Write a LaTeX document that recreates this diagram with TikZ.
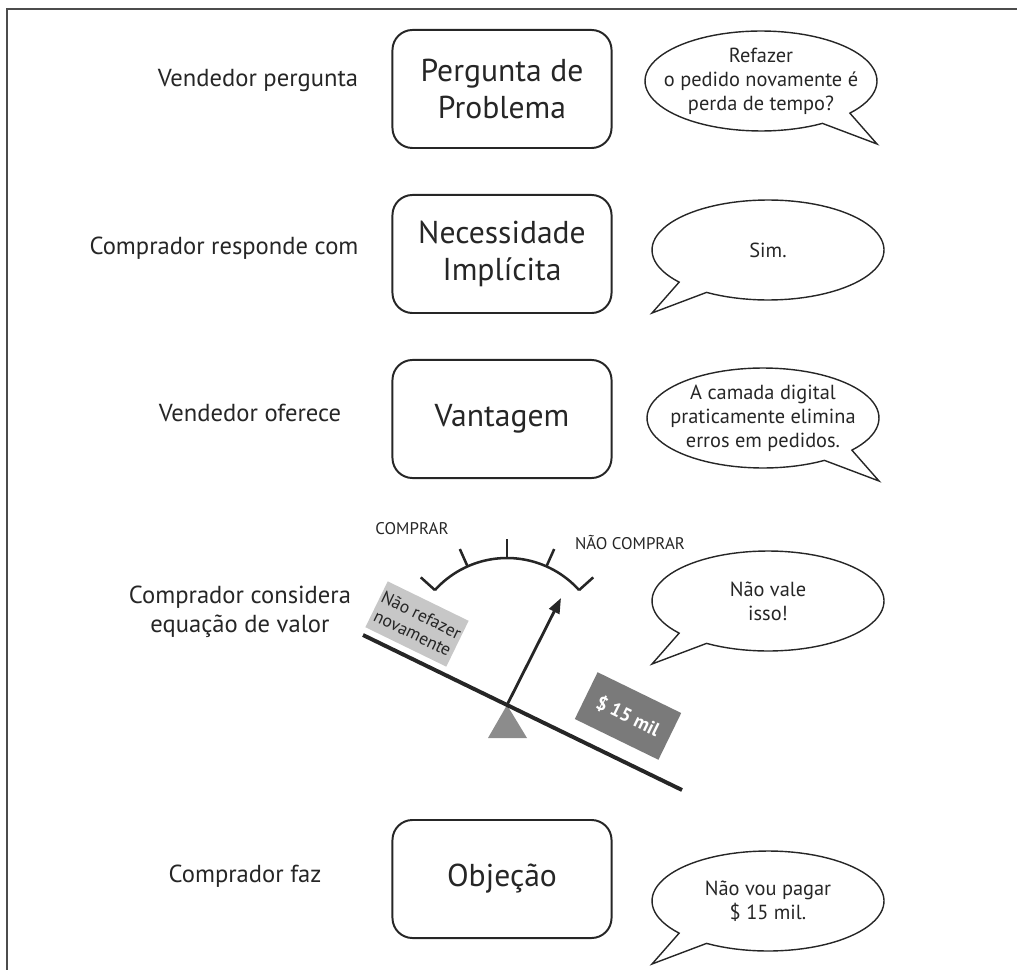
\documentclass[tikz,border=0pt]{standalone}
\usepackage{fontspec}
\setmainfont{PT Sans}
\usepackage{tikz}
\usetikzlibrary{arrows.meta, positioning, calc}

\begin{document}
\begin{tikzpicture}[
    x=0.025cm, y=-0.025cm,
    color=black!85,
    lefttext/.style={align=center, font=\fontsize{17.5}{21}\selectfont},
    stagebox/.style={draw, rounded corners=0.5cm, line width=1.4pt, minimum width=5.475cm, minimum height=2.95cm, align=center, font=\fontsize{22.5}{26.5}\selectfont},
    saytext/.style={align=center, font=\fontsize{14.5}{17}\selectfont},
    bubble/.style={line width=1pt, line join=miter},
    dialline/.style={line width=1.8pt},
    dialtext/.style={font=\fontsize{12}{14}\selectfont},
    weight/.style={minimum width=2.25cm, minimum height=1.275cm, inner sep=1pt, align=center, rotate=-26},
    pointer/.style={-{Triangle[length=3.8mm, width=2.8mm]}, line width=2pt}
]
\useasboundingbox (0,0) rectangle (1017,970);

% Frame
\draw[black!70, line width=1.4pt] (7,970) -- (7,9) -- (1017,9);

% Stages
\node[stagebox] (problema) at (502,89) {Pergunta de\\Problema};
\node[stagebox] (necessidade) at (502,254) {Necessidade\\Implícita};
\node[stagebox] (vantagem) at (502,419) {Vantagem};
\node[stagebox] (objecao) at (502,879) {Objeção};

% Who speaks
\node[lefttext] (who1) at (258,81) {Vendedor pergunta};
\node[lefttext] (who2) at (224,248) {Comprador responde com};
\node[lefttext] (who3) at (250,413) {Vendedor oferece};
\node[lefttext] (who4) at (240,612) {Comprador considera\\equação de valor};
\node[lefttext] (who5) at (245,876) {Comprador faz};

% Speech
\node[saytext] (say1) at (761,81) {Refazer\\o pedido novamente é\\perda de tempo?};
\node[saytext] (say2) at (768,250) {Sim.};
\node[saytext] (say3) at (763,418) {A camada digital\\praticamente elimina\\erros em pedidos.};
\node[saytext] (say4) at (768,601) {Não vale\\isso!};
\node[saytext] (say5) at (768,901) {Não vou pagar\\\$ 15 mil.};

\foreach \n/\s in {say1/1, say2/-1, say3/1, say4/-1, say5/-1}
  \draw[bubble, shift={(\n.center)}, xscale=\s]
    plot[domain=58:400, samples=90] ({116*cos(\x)},{50*sin(\x)}) -- (116,63) -- cycle;

% Dial
\coordinate (dial) at (507,655);
\draw[dialline] plot[domain=42:138, samples=40] ({507+97*cos(\x)},{655-97*sin(\x)});
\foreach \a in {42,66,90,114,138}
  \draw[dialline] ($(dial)+(-\a:97)$) -- ($(dial)+(-\a:116)$);
\node[dialtext] (buy) at (412,529) {COMPRAR};
\node[dialtext] (nobuy) at (630,543) {NÃO COMPRAR};

% Scale
\coordinate (beamL) at (363,635);
\coordinate (beamR) at (682,790);
\coordinate (pivot) at (507,705);
\coordinate (baseL) at (488,738);
\coordinate (baseR) at (527,738);
\coordinate (needle) at (561,598);

\node[weight, fill=black!22, font=\fontsize{12.5}{14}\selectfont] (redo) at (417,624) {Não refazer\\novamente};
\node[weight, fill=black!52, text=white, font=\bfseries\fontsize{13.5}{15}\selectfont, minimum width=2.325cm, minimum height=1.3cm] (price) at (628,716) {\$ 15 mil};

\fill[black!45] (pivot) -- (baseL) -- (baseR) -- cycle;
\draw[line width=2.8pt] (beamL) -- (beamR);
\draw[pointer] (pivot) -- (needle);

\end{tikzpicture}
\end{document}
